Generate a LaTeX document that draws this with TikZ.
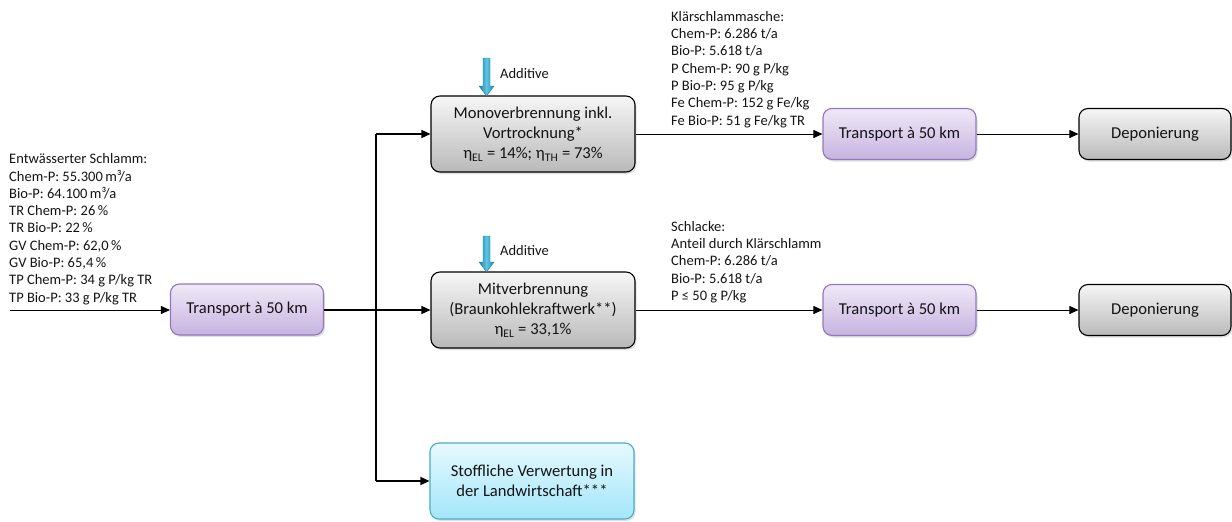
\documentclass[tikz,border=0pt]{standalone}
\usepackage{fontspec}
\setmainfont{Carlito}
\usetikzlibrary{arrows.meta,shadows}

\definecolor{ink}{HTML}{141414}
\definecolor{lilacTop}{HTML}{EFE9F7}
\definecolor{lilacBot}{HTML}{C7B3E0}
\definecolor{lilacLine}{HTML}{9377BC}
\definecolor{greyTop}{HTML}{F6F6F6}
\definecolor{greyBot}{HTML}{B9B9B9}
\definecolor{cyanTop}{HTML}{E6F9FE}
\definecolor{cyanBot}{HTML}{A3E6FA}
\definecolor{cyanLine}{HTML}{4BACC6}
\definecolor{tealDark}{HTML}{1A84A8}
\definecolor{tealLight}{HTML}{5FC6E3}

\newcommand\boxfont{\fontsize{16.6}{20}\selectfont}
\newcommand\infofont{\fontsize{14.5}{17.3}\selectfont}

\tikzset{
  procbox/.style={rounded corners=9pt, align=center, font=\boxfont, text=ink,
    inner sep=2pt, line width=1.1pt,
    drop shadow={opacity=0.25, shadow xshift=1.5pt, shadow yshift=-2pt}},
  transportbox/.style={procbox, draw=lilacLine, top color=lilacTop, bottom color=lilacBot,
    minimum width=153pt, minimum height=51pt},
  greybox/.style={procbox, draw=black, top color=greyTop, bottom color=greyBot},
  cyanbox/.style={procbox, draw=cyanLine, top color=cyanTop, bottom color=cyanBot,
    minimum width=204pt, minimum height=76pt},
  info/.style={align=left, font=\infofont, text=ink, inner sep=0pt},
  flow/.style={draw=black, line width=0.9pt, -{Triangle[length=9pt,width=8pt]}},
  branch/.style={draw=black, line width=1.5pt},
  additivearrow/.style={left color=tealDark, right color=tealDark, middle color=tealLight,
    draw=tealDark, line width=0.4pt},
}

\begin{document}
\begin{tikzpicture}[x=1pt,y=-1pt]
  \useasboundingbox (0,0) rectangle (1232,522);

  % input sludge data
  \node[info, anchor=north west] (schlamm) at (9,153.5)
    {Entwässerter Schlamm:\\
     Chem-P: 55.300\,m³/a\\
     Bio-P: 64.100\,m³/a\\
     TR Chem-P: 26\,\%\\
     TR Bio-P: 22\,\%\\
     GV Chem-P: 62,0\,\%\\
     GV Bio-P: 65,4\,\%\\
     TP Chem-P: 34 g P/kg TR\\
     TP Bio-P: 33 g P/kg TR};

  % first transport step and the three treatment routes
  \node[transportbox] (tr1) at (247,309.5) {Transport à 50 km};
  \node[greybox, minimum width=204pt, minimum height=76pt] (mono) at (533,134)
    {Monoverbrennung inkl.\\ Vortrocknung*\\ η\textsubscript{EL} = 14\%; η\textsubscript{TH} = 73\%};
  \node[greybox, minimum width=204pt, minimum height=76pt] (mit) at (533,310)
    {Mitverbrennung\\ (Braunkohlekraftwerk**)\\ η\textsubscript{EL} = 33,1\%};
  \node[cyanbox] (stoff) at (532,481)
    {Stoffliche Verwertung in\\ der Landwirtschaft***};

  % downstream transport and landfill
  \node[transportbox] (tr2) at (899.5,134) {Transport à 50 km};
  \node[greybox, minimum width=152pt, minimum height=51pt] (dep1) at (1155,134) {Deponierung};
  \node[transportbox] (tr3) at (899.5,310) {Transport à 50 km};
  \node[greybox, minimum width=152pt, minimum height=51pt] (dep2) at (1155,310) {Deponierung};

  % ash and slag data
  \node[info, anchor=north west] (asche) at (671,11)
    {Klärschlammasche:\\
     Chem-P: 6.286 t/a\\
     Bio-P: 5.618 t/a\\
     P Chem-P: 90 g P/kg\\
     P Bio-P: 95 g P/kg\\
     Fe Chem-P: 152 g Fe/kg\\
     Fe Bio-P: 51 g Fe/kg TR};
  \node[info, anchor=north west] (schlacke) at (671,221)
    {Schlacke:\\
     Anteil durch Klärschlamm\\
     Chem-P: 6.286 t/a\\
     Bio-P: 5.618 t/a\\
     P ≤ 50 g P/kg};

  % additives
  \coordinate (addA) at (486.5,58);
  \coordinate (addB) at (486.5,236);
  \path[additivearrow, shift={(addA)}]
    (-3.5,0) -- (3.5,0) -- (3.5,28) -- (7.5,28) -- (0,38) -- (-7.5,28) -- (-3.5,28) -- cycle;
  \path[additivearrow, shift={(addB)}]
    (-3.5,0) -- (3.5,0) -- (3.5,26) -- (7.5,26) -- (0,36) -- (-7.5,26) -- (-3.5,26) -- cycle;
  \node[info, anchor=west] (addlabA) at (500,74) {Additive};
  \node[info, anchor=west] (addlabB) at (500,251) {Additive};

  % connectors
  \coordinate (inflow) at (10,310);
  \coordinate (split) at (376,310);
  \draw[flow] (inflow) -- (tr1.west |- inflow);
  \draw[branch] (tr1.east |- split) -- (split);
  \draw[branch] (split) -- (376,134);
  \draw[branch] (split) -- (376,481);
  \draw[flow, line width=1.4pt] (376,134) -- (mono.west);
  \draw[flow, line width=1.4pt] (split) -- (mit.west);
  \draw[flow, line width=1.4pt] (376,481) -- (stoff.west);
  \draw[flow] (mono.east) -- (tr2.west);
  \draw[flow] (tr2.east) -- (dep1.west);
  \draw[flow] (mit.east) -- (tr3.west);
  \draw[flow] (tr3.east) -- (dep2.west);
\end{tikzpicture}
\end{document}
